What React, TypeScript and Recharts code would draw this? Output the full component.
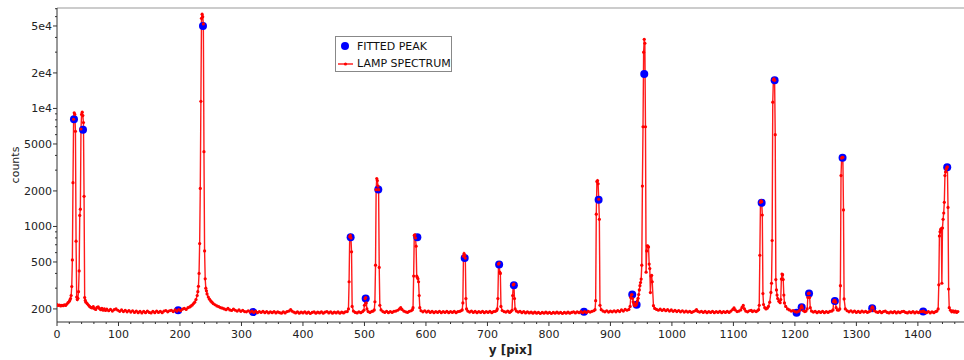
import { ComposedChart, Line, Scatter, XAxis, YAxis, ReferenceLine } from 'recharts'

// lamp spectrum, [pixel, counts]
const lampLeft: [number, number][] = [
  [0, 218], [2, 214], [4, 216], [6, 212], [8, 215], [10, 213], [12, 217], [14, 214], [16, 220], [18, 226], [20, 232], [21, 238], [22, 245],
  [23, 260], [24, 310], [25, 520], [26, 2350], [27, 8100], [28, 9200], [29, 8900], [30, 6400], [31, 750], [32, 252], [33, 240],
  [34, 246], [35, 280], [36, 420], [37, 1240], [38, 1400], [39, 6700], [40, 8900], [41, 9300], [42, 8700], [43, 7600], [44, 1800], [45, 250],
  [46, 236], [47, 228], [49, 222], [51, 216], [53, 210], [55, 206], [57, 204], [59, 209], [61, 201], [63, 198], [65, 206], [67, 208], [69, 202],
  [71, 197], [73, 202], [75, 195], [77, 200], [79, 194], [81, 199], [84, 193], [87, 198], [90, 192], [93, 197], [96, 200], [99, 195], [102, 191],
  [105, 196], [108, 190], [111, 195], [114, 189], [117, 194], [120, 188], [123, 193], [126, 187], [129, 192], [132, 186], [135, 191], [138, 185],
  [141, 191], [144, 186], [147, 192], [150, 187], [153, 185], [156, 191], [159, 186], [162, 192], [165, 187], [168, 191], [171, 186], [174, 192],
  [177, 194], [180, 189], [183, 193], [186, 195], [189, 190], [192, 196], [195, 192], [198, 197], [201, 193], [204, 199], [207, 202], [210, 198],
  [213, 205], [216, 208], [218, 212], [220, 216], [222, 222], [224, 228], [226, 240], [228, 260], [229, 280], [230, 311], [231, 400], [232, 716],
  [233, 2100], [234, 11500], [235, 58000], [236, 63000], [237, 60000], [238, 52000], [239, 4300], [240, 620], [241, 360], [242, 300], [243, 285],
  [244, 268], [246, 252], [248, 242], [250, 234], [252, 228], [254, 222], [257, 217], [260, 212], [263, 209], [266, 205], [269, 203], [272, 200],
  [275, 197], [278, 202], [281, 196], [284, 194], [287, 199], [290, 195], [293, 192], [296, 196], [299, 191], [302, 195], [305, 190], [308, 189],
  [311, 193], [314, 188], [317, 192], [320, 187], [323, 191], [326, 186], [329, 190], [332, 187], [335, 191], [338, 186], [341, 190], [344, 185],
  [347, 189], [350, 186], [353, 190], [356, 185], [359, 189], [362, 186], [365, 184], [368, 189], [371, 185], [374, 190], [377, 192], [380, 197],
  [382, 192], [385, 188], [388, 185], [391, 189], [394, 184], [397, 188], [400, 185], [403, 189], [406, 184], [409, 188], [412, 183], [415, 187],
  [418, 189], [421, 184], [424, 188], [427, 185], [430, 189], [433, 184], [436, 188], [439, 190], [442, 185], [445, 189], [448, 184], [451, 188],
  [454, 185], [457, 189], [460, 184], [463, 188], [466, 185], [469, 189],
]

const lampMid: [number, number][] = [
  [472, 190], [474, 200], [475, 340], [476, 820], [477, 840], [478, 800], [479, 610], [480, 210], [482, 192], [485, 187], [488, 185], [491, 189],
  [494, 186], [497, 190], [499, 195], [500, 215], [501, 245], [502, 250], [503, 225], [504, 200], [506, 190], [509, 187], [512, 191], [514, 192],
  [516, 196], [517, 230], [518, 470], [519, 2050], [520, 2550], [521, 2450], [522, 2200], [523, 2050], [524, 450], [525, 215], [527, 196],
  [530, 190], [533, 187], [536, 191], [539, 186], [542, 190], [545, 187], [548, 191], [551, 192], [554, 195], [557, 200], [559, 205], [561, 198],
  [564, 192], [567, 189], [570, 187], [573, 191], [576, 193], [578, 197], [579, 205], [580, 380], [581, 840], [582, 850], [583, 800], [584, 680],
  [585, 380], [586, 370], [587, 360], [588, 340], [589, 260], [590, 205], [592, 193], [595, 189], [598, 193], [601, 188], [604, 192], [607, 187],
  [610, 191], [613, 186], [616, 190], [619, 187], [622, 191], [625, 186], [628, 190], [631, 187], [634, 191], [637, 186], [640, 190], [643, 187],
  [646, 191], [649, 186], [652, 190], [655, 191], [657, 193], [659, 196], [660, 225], [661, 560], [662, 590], [663, 570], [664, 540], [665, 245],
  [666, 200], [668, 192], [671, 188], [674, 192], [677, 187], [680, 191], [683, 186], [686, 190], [689, 187], [692, 191], [695, 186], [698, 190],
  [701, 187], [704, 191], [707, 186], [710, 190], [713, 191], [715, 194], [716, 200], [717, 245], [718, 480], [719, 490], [720, 410], [721, 400],
  [722, 210], [724, 194], [727, 190], [730, 188], [733, 192], [736, 187], [738, 190], [740, 195], [741, 260], [742, 320], [743, 325], [744, 245],
  [745, 200], [747, 192], [750, 188], [753, 191], [756, 186], [759, 190], [762, 185], [765, 189], [768, 185], [771, 188], [774, 184], [777, 188],
  [780, 184], [783, 187], [786, 183], [789, 187], [792, 184], [795, 188], [798, 184], [801, 187], [804, 183], [807, 187], [810, 184], [813, 188],
  [816, 184], [819, 187], [822, 183], [825, 187], [828, 184], [831, 188], [834, 184], [837, 187], [840, 189], [843, 185], [846, 189], [849, 186],
  [852, 190], [855, 186], [858, 190], [861, 187], [864, 191], [867, 188], [870, 191], [873, 193], [875, 197], [876, 235], [877, 1270], [878, 2400],
  [879, 2450], [880, 2300], [881, 1700], [882, 1150], [883, 215], [885, 197], [888, 192], [891, 189], [894, 193], [897, 188], [900, 192],
  [903, 189], [906, 193], [909, 189], [912, 194], [915, 190], [918, 196], [921, 192], [924, 198], [927, 195], [930, 198], [932, 210], [933, 250],
  [934, 262], [935, 265], [936, 245], [937, 230], [938, 222], [939, 215], [940, 213], [941, 215], [942, 218], [943, 225], [944, 235], [945, 246],
  [946, 265], [947, 290], [948, 315], [949, 335], [950, 358], [951, 470], [952, 2200], [953, 7000], [954, 30000], [955, 38500], [956, 35700],
  [957, 7000], [958, 410], [959, 620], [960, 685], [961, 680], [962, 670], [963, 480], [964, 440], [965, 275], [966, 380], [967, 385], [968, 340],
  [970, 213], [972, 202], [975, 198], [978, 195],
]

const lampRight: [number, number][] = [
  [981, 199], [984, 194], [987, 198], [990, 193], [993, 197], [996, 192], [999, 196], [1002, 191], [1005, 195], [1008, 190], [1011, 194],
  [1014, 189], [1017, 193], [1020, 188], [1023, 192], [1026, 188], [1029, 191], [1032, 187], [1035, 190], [1038, 193], [1040, 197], [1042, 191],
  [1045, 188], [1048, 191], [1051, 187], [1054, 191], [1057, 186], [1060, 190], [1063, 187], [1066, 191], [1069, 186], [1072, 190], [1075, 187],
  [1078, 191], [1081, 186], [1084, 190], [1087, 187], [1090, 191], [1093, 187], [1096, 192], [1099, 198], [1101, 204], [1103, 196], [1106, 190],
  [1109, 192], [1112, 196], [1114, 206], [1116, 214], [1118, 200], [1120, 192], [1123, 189], [1126, 193], [1129, 195], [1131, 190], [1134, 193],
  [1137, 190], [1139, 193], [1141, 197], [1142, 215], [1143, 570], [1144, 1600], [1145, 1650], [1146, 1620], [1147, 1250], [1148, 270],
  [1149, 218], [1151, 205], [1153, 200], [1155, 203], [1157, 210], [1159, 228], [1161, 276], [1162, 330], [1163, 760], [1164, 11300],
  [1165, 17500], [1166, 17800], [1167, 17300], [1168, 6000], [1169, 355], [1170, 290], [1171, 262], [1172, 245], [1174, 232], [1176, 226],
  [1177, 240], [1178, 358], [1179, 395], [1180, 390], [1181, 355], [1182, 262], [1183, 225], [1185, 210], [1188, 200], [1191, 196], [1194, 192],
  [1197, 194], [1200, 190], [1203, 188], [1206, 191], [1208, 195], [1210, 205], [1211, 212], [1212, 205], [1214, 193], [1216, 190], [1218, 192],
  [1220, 200], [1221, 250], [1222, 270], [1223, 272], [1224, 250], [1225, 205], [1227, 192], [1230, 188], [1233, 191], [1236, 186], [1239, 190],
  [1242, 187], [1245, 191], [1248, 186], [1251, 190], [1254, 187], [1257, 191], [1260, 192], [1262, 196], [1263, 230], [1264, 236], [1265, 235],
  [1266, 228], [1267, 205], [1269, 196], [1271, 195], [1273, 200], [1274, 315], [1275, 2700], [1276, 3800], [1277, 3850], [1278, 3850],
  [1279, 1380], [1280, 243], [1282, 200], [1285, 193], [1288, 189], [1291, 193], [1294, 188], [1297, 192], [1300, 187], [1303, 191], [1306, 187],
  [1309, 192], [1312, 188], [1315, 191], [1318, 187], [1321, 190], [1323, 193], [1325, 204], [1326, 208], [1327, 204], [1329, 193], [1332, 189],
  [1335, 187], [1338, 191], [1341, 186], [1344, 190], [1347, 192], [1350, 187], [1353, 185], [1356, 189], [1359, 186], [1362, 190], [1365, 185],
  [1368, 189], [1371, 186], [1374, 190], [1377, 191], [1380, 187], [1383, 185], [1386, 189], [1389, 186], [1392, 190], [1395, 185], [1398, 189],
  [1401, 186], [1404, 190], [1407, 190], [1409, 192], [1411, 188], [1414, 186], [1417, 190], [1420, 185], [1423, 189], [1426, 186], [1429, 190],
  [1431, 192], [1433, 200], [1434, 320], [1435, 830], [1436, 900], [1437, 940], [1438, 960], [1439, 330], [1440, 970], [1441, 1150], [1442, 1300],
  [1443, 1600], [1444, 2700], [1445, 2900], [1446, 3050], [1447, 3150], [1448, 3200], [1449, 1450], [1450, 295], [1451, 205], [1453, 195],
  [1455, 189], [1457, 193], [1459, 188], [1461, 192], [1463, 187], [1465, 190],
]

const fittedPeaks: [number, number][] = [
  [27.6, 8100], [42.3, 6600], [197, 195], [237.4, 50000], [319, 188], [477.5, 810], [502, 245], [522.5, 2060], [586, 810],
  [663, 540], [719, 477], [743, 317], [857, 189], [880.8, 1680], [935.5, 265], [942.6, 217], [955, 19600], [1145.9, 1590],
  [1167, 17300], [1202.7, 186], [1211, 207], [1223, 270], [1265, 233], [1277.5, 3820], [1325.7, 203], [1408.6, 190], [1447.7, 3180],
]

const xMajorTicks = [0, 100, 200, 300, 400, 500, 600, 700, 800, 900, 1000, 1100, 1200, 1300, 1400]
const yMajorTicks = [200, 500, 1000, 2000, 5000, 10000, 20000, 50000]
const yAllTicks = [
  200, 300, 400, 500, 600, 700, 800, 900, 1000, 2000, 3000, 4000, 5000, 6000, 7000, 8000, 9000,
  10000, 20000, 30000, 40000, 50000, 60000, 70000,
]

const X_DOMAIN: [number, number] = [0, 1475]
const Y_DOMAIN: [number, number] = [155, 71000]
const FONT = '"DejaVu Sans", sans-serif'

const xAllTicks = xMajorTicks.flatMap((m) => [m, m + 20, m + 40, m + 60, m + 80]).filter((v) => v <= 1470)

const lampRows = [...lampLeft, ...lampMid, ...lampRight].map(([x, counts]) => ({ x, counts }))
const peakRows = fittedPeaks.map(([x, counts]) => ({ x, counts }))

const fmtY = (v: number) => (v >= 10000 ? `${v / 10000}e4` : String(v))

function XTick({ x, y, payload }: any) {
  const v = payload.value
  const major = xMajorTicks.includes(v)
  return (
    <g>
      <line x1={x} x2={x} y1={y} y2={y + (major ? 4 : 2)} stroke="#333" />
      {major && (
        <text x={x} y={y + 16} textAnchor="middle" fontSize={11} fontFamily={FONT} fill="#222">
          {v}
        </text>
      )}
    </g>
  )
}

function YTick({ x, y, payload }: any) {
  const v = payload.value
  const major = yMajorTicks.includes(v)
  return (
    <g>
      <line x1={x} x2={x - (major ? 4 : 2)} y1={y} y2={y} stroke="#333" />
      {major && (
        <text x={x - 5} y={y} dy="0.36em" textAnchor="end" fontSize={11} fontFamily={FONT} fill="#222">
          {fmtY(v)}
        </text>
      )}
    </g>
  )
}

function CountsLabel({ viewBox }: any) {
  const cx = viewBox.x + 15
  const cy = viewBox.y + viewBox.height / 2
  return (
    <text x={cx} y={cy} transform={`rotate(-90 ${cx} ${cy})`} textAnchor="middle" dy="0.35em" fontSize={11} fontFamily={FONT} fill="#222">
      counts
    </text>
  )
}

function PeakDot({ cx, cy }: any) {
  return <circle cx={cx} cy={cy} r={4} fill="#0000ff" />
}

function PeakLegend() {
  return (
    <div
      style={{
        position: 'absolute', left: 335, top: 36, width: 115, height: 34,
        border: '1px solid #888', background: '#fff', fontFamily: FONT, fontSize: 11, color: '#111',
      }}
    >
      <svg width={20} height={34} style={{ position: 'absolute', left: 0, top: 0 }}>
        <circle cx={9} cy={9} r={4} fill="#0000ff" />
        <line x1={2} x2={17} y1={27} y2={27} stroke="#ff0000" strokeWidth={1.3} />
        <circle cx={9.5} cy={27} r={1.6} fill="#ff0000" />
      </svg>
      <div style={{ position: 'absolute', left: 21, top: 3, whiteSpace: 'nowrap' }}>FITTED PEAK</div>
      <div style={{ position: 'absolute', left: 21, top: 20, whiteSpace: 'nowrap' }}>LAMP SPECTRUM</div>
    </div>
  )
}

export default function App() {
  return (
    <div style={{ position: 'absolute', left: 0, top: 0, width: 964, height: 360, background: '#fff' }}>
      <ComposedChart width={964} height={360} margin={{ top: 8, right: 0, left: 0, bottom: 0 }}>
        <XAxis
          type="number"
          dataKey="x"
          domain={X_DOMAIN}
          ticks={xAllTicks}
          interval={0}
          tick={<XTick />}
          tickLine={false}
          tickSize={0}
          tickMargin={0}
          height={38}
          axisLine={{ stroke: '#333' }}
          allowDataOverflow
          label={{ value: 'y [pix]', position: 'insideBottom', offset: 6, style: { fontFamily: FONT, fontSize: 12, fontWeight: 'bold', fill: '#222' } }}
        />
        <YAxis
          type="number"
          scale="log"
          domain={Y_DOMAIN}
          ticks={yAllTicks}
          interval={0}
          tick={<YTick />}
          tickLine={false}
          tickSize={0}
          tickMargin={0}
          width={57}
          axisLine={{ stroke: '#333' }}
          allowDataOverflow
          label={<CountsLabel />}
        />
        <ReferenceLine y={Y_DOMAIN[1]} stroke="#999" />
        <Scatter data={peakRows} dataKey="counts" shape={<PeakDot />} isAnimationActive={false} />
        <Line
          data={lampRows}
          dataKey="counts"
          type="linear"
          stroke="#ff1a1a"
          strokeWidth={1.4}
          dot={{ r: 1.6, fill: '#ff0000', stroke: 'none' }}
          activeDot={false}
          isAnimationActive={false}
        />
      </ComposedChart>
      <PeakLegend />
    </div>
  )
}
